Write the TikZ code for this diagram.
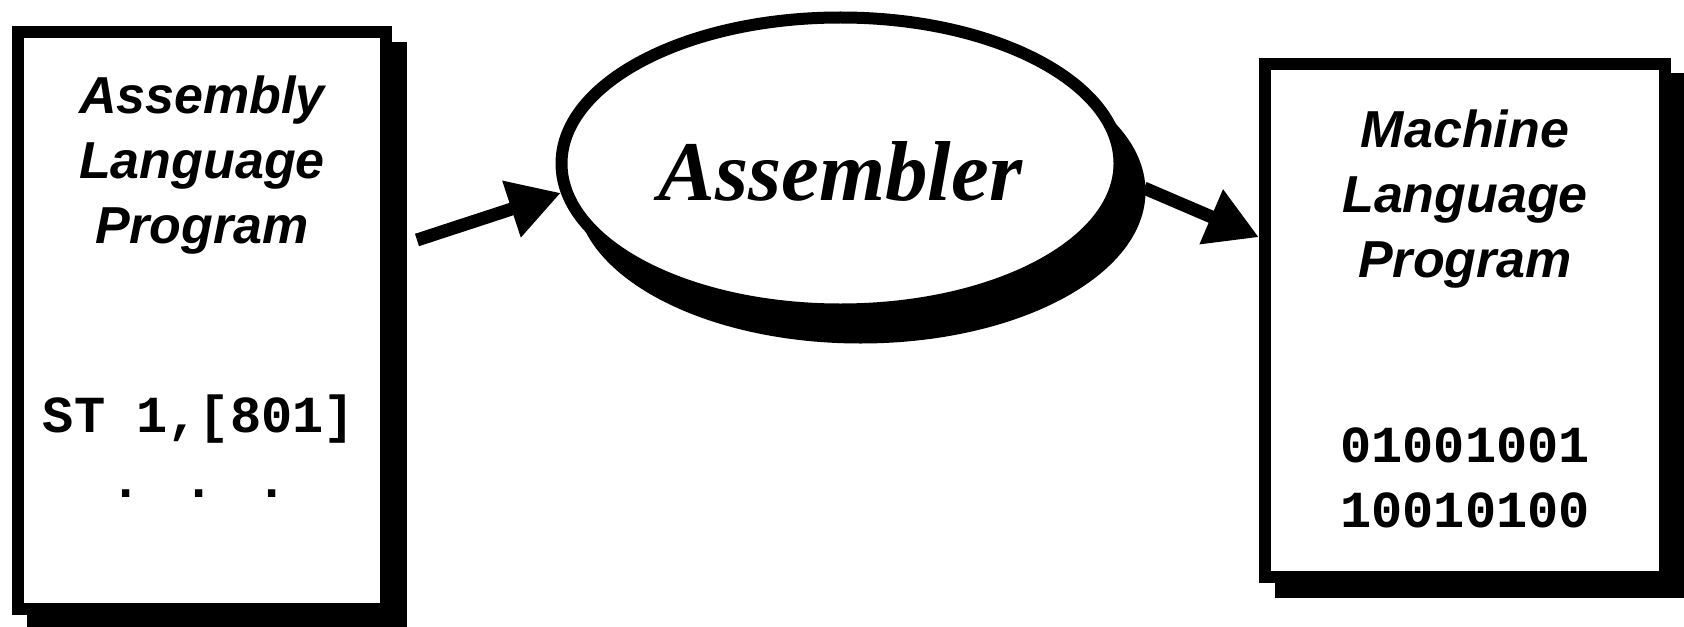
\documentclass[tikz,border=0pt]{standalone}
\usepackage{fontspec}
\newfontfamily\labelfont{Liberation Sans}
\newfontfamily\listfont{Liberation Mono}
\newfontfamily\toolfont{Liberation Serif}
\usetikzlibrary{shapes,arrows.meta,positioning,backgrounds}
\tikzstyle{page} = [rectangle, draw, fill=white, line width=6pt, inner sep=0pt]
\tikzstyle{tool} = [ellipse, draw, fill=white, line width=6pt, inner sep=0pt,
    minimum width=279pt, minimum height=146pt, text height=36.5pt, text depth=0pt,
    font=\toolfont\bfseries\itshape\fontsize{42.5}{50}\selectfont]
\tikzstyle{heading} = [align=center, anchor=base,
    font=\labelfont\bfseries\itshape\fontsize{26}{32.5}\selectfont]
\tikzstyle{listing} = [align=center, anchor=base,
    font=\listfont\bfseries\fontsize{26}{32.5}\selectfont]
\tikzstyle{arrow} = [line width=6.5pt,-{Triangle[length=26pt,width=28pt]}]

\begin{document}
\begin{tikzpicture}[x=0.5pt, y=-0.5pt]
    \useasboundingbox (0,0) rectangle (1684,626);
    % Place nodes
    \node [page, minimum width=184pt, minimum height=288.5pt] (asmprog) at (202,320.5) {};
    \node [heading] (asmtitle) at (202,243) {Assembly\\Language\\Program};
    \node [listing] (asmcode) at (199,497) {ST 1,[801]\\. . .};
    \node [tool] (assembler) at (840.5,163.5) {Assembler};
    \node [page, minimum width=200pt, minimum height=256.5pt] (machprog) at (1465,320.5) {};
    \node [heading] (machtitle) at (1465,277) {Machine\\Language\\Program};
    \node [listing] (machcode) at (1465,527) {01001001\\10010100};
    \coordinate (asmout) at (417,240);
    \coordinate (asmin) at (1144,188);

    % Drop shadows
    \begin{scope}[on background layer]
    \fill ([shift={(15,16)}]asmprog.north west) rectangle ([shift={(15,16)}]asmprog.south east);
    \fill ([shift={(20,28)}]assembler.center) ellipse [x radius=285, y radius=152];
    \fill ([shift={(16,15)}]machprog.north west) rectangle ([shift={(16,15)}]machprog.south east);
    \end{scope}

    % Draw edges
    \draw [arrow] (asmout) -- (assembler.186);
    \draw [arrow] (asmin) -- (machprog.158.7);
\end{tikzpicture}
\end{document}
